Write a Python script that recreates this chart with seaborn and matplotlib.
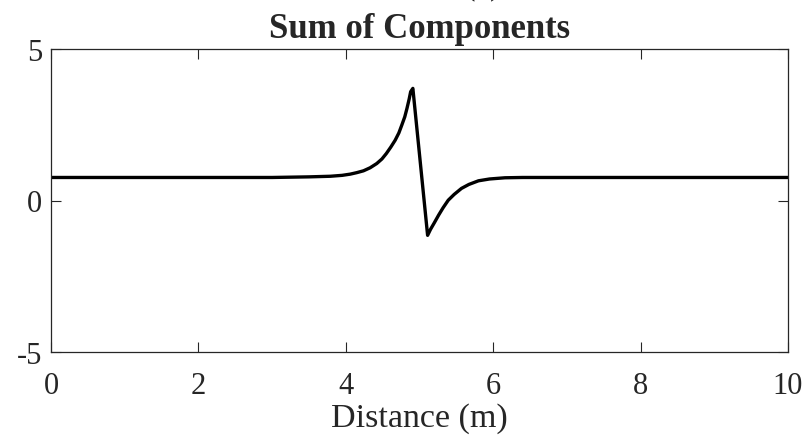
import matplotlib
matplotlib.use("Agg")
import matplotlib.pyplot as plt
import seaborn as sns
import pandas as pd

# Sampled profile of the summed response along the line
distance_m = [0.0, 1.0, 2.0, 3.0, 3.5, 3.79, 3.95, 4.06, 4.15, 4.24, 4.33, 4.42,
              4.49, 4.55, 4.61, 4.67, 4.72, 4.76, 4.80, 4.83, 4.86, 4.88, 4.91,
              5.11, 5.15, 5.20, 5.26, 5.32, 5.39, 5.47, 5.57, 5.67, 5.80, 5.95,
              6.16, 6.4, 7.0, 8.0, 9.0, 10.0]
sum_value = [0.76, 0.76, 0.76, 0.76, 0.78, 0.80, 0.83, 0.87, 0.92, 0.98, 1.08, 1.22,
             1.37, 1.55, 1.76, 1.99, 2.23, 2.49, 2.76, 3.04, 3.35, 3.59, 3.70,
             -1.15, -0.95, -0.74, -0.48, -0.24, 0.01, 0.20, 0.40, 0.53, 0.65, 0.71,
             0.75, 0.76, 0.76, 0.76, 0.76, 0.76]

x_ticks = [0, 2, 4, 6, 8, 10]
y_ticks = [-5, 0, 5]

df = pd.DataFrame({"Distance (m)": distance_m, "Sum": sum_value})

sns.set_style("ticks")
plt.rcParams["font.family"] = ["Liberation Serif", "DejaVu Serif"]

W, H = 807, 439
fig = plt.figure(figsize=(W / 100, H / 100), dpi=100)
ax = fig.add_axes([51 / W, 1 - 353 / H, (788 - 51) / W, (353 - 50) / H])

sns.lineplot(data=df, x="Distance (m)", y="Sum", ax=ax, color="black",
             linewidth=2.4, sort=False, estimator=None)

ax.set_xlim(0, 10)
ax.set_ylim(-5, 5)
ax.set_xticks(x_ticks)
ax.set_yticks(y_ticks)
ax.set_xticklabels([str(v) for v in x_ticks])
ax.set_yticklabels([str(v) for v in y_ticks])
ax.tick_params(direction="in", length=7, width=0.8, color="#262626",
               top=True, right=True, labelsize=22, labelcolor="#262626")
ax.tick_params(axis="x", pad=13.5)
ax.tick_params(axis="y", pad=6.5)
for s in ax.spines.values():
    s.set_visible(True)
    s.set_linewidth(0.9)
    s.set_color("#262626")

ax.set_xlabel("Distance (m)", fontsize=24.5, color="#262626", labelpad=2)
ax.set_ylabel("")
ax.set_title("Sum of Components", fontsize=25, fontweight="bold", pad=8.5)
fig.text(483 / W, 1 + 6.5 / H, "(c)", fontsize=25, ha="center", va="baseline",
         color="#262626")

fig.savefig("out.png", dpi=100)
